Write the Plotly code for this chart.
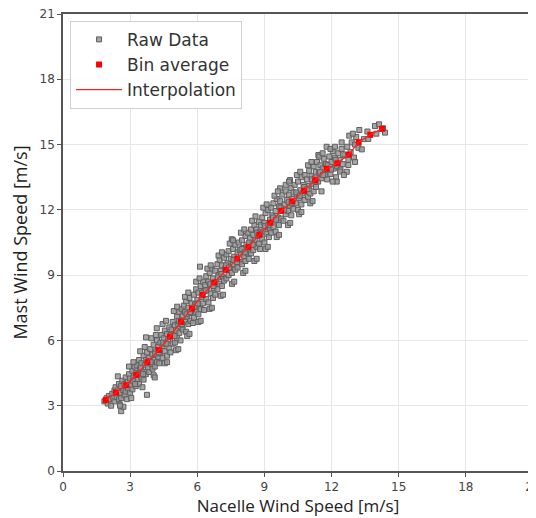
import plotly.graph_objects as go

# Bin averages (Nacelle wind speed, Mast wind speed)
bin_x = [1.91, 2.37, 2.82, 3.28, 3.77, 4.28, 4.78, 5.27, 5.76, 6.24, 6.76, 7.28, 7.79,
         8.28, 8.77, 9.26, 9.75, 10.25, 10.77, 11.27, 11.78, 12.26, 12.77, 13.21, 13.73, 14.25]
bin_y = [3.26, 3.60, 3.94, 4.41, 5.00, 5.56, 6.17, 6.85, 7.46, 8.09, 8.66, 9.24, 9.76,
         10.29, 10.85, 11.41, 11.95, 12.39, 12.87, 13.36, 13.89, 14.14, 14.54, 15.11, 15.45, 15.72]

# Raw data points
raw_pairs = [
    (1.85, 3.2), (1.95, 3.35), (2.0, 3.1), (2.05, 3.45), (2.1, 3.3), (2.15, 3.0), (2.2, 3.55),
    (2.25, 3.35), (2.3, 3.7), (2.3, 3.2), (2.6, 2.75), (2.7, 2.95), (2.55, 3.05),
    (2.35, 3.85), (2.4, 3.4), (2.45, 3.7), (2.5, 4.0), (2.5, 3.3), (2.55, 3.6), (2.6, 3.9),
    (2.6, 3.35), (2.65, 4.15), (2.7, 3.7), (2.75, 3.5), (2.75, 4.0), (2.8, 4.3), (2.8, 3.65),
    (2.85, 3.3), (2.9, 4.1), (2.9, 3.8), (2.95, 4.45), (3.0, 3.6), (3.0, 4.25), (3.05, 3.95),
    (3.1, 4.6), (3.1, 3.75), (3.15, 4.3), (3.2, 4.05), (3.2, 4.8), (3.25, 3.9), (3.25, 4.5), (3.3, 4.2),
    (3.3, 4.85), (3.35, 4.45), (3.4, 4.0), (3.4, 5.1), (3.45, 4.7), (3.5, 4.3), (3.5, 4.95),
    (3.55, 4.55), (3.6, 5.3), (3.6, 4.2), (3.65, 4.85), (3.7, 5.1), (3.7, 4.45), (3.75, 3.5),
    (3.75, 5.45), (3.8, 4.75), (3.71, 6.14),
    (3.85, 5.2), (3.85, 4.55), (3.9, 5.6), (3.95, 4.9), (4.0, 5.35), (4.0, 4.7), (4.05, 5.8),
    (4.1, 5.1), (4.1, 4.8), (4.15, 5.5), (4.2, 6.0), (4.2, 5.0), (4.25, 5.7), (4.25, 5.25),
    (4.19, 6.56), (4.3, 4.95),
    (4.35, 5.9), (4.35, 5.4), (4.4, 6.25), (4.45, 5.2), (4.45, 5.75), (4.5, 6.1), (4.55, 5.5),
    (4.55, 6.45), (4.6, 5.85), (4.65, 5.3), (4.65, 6.3), (4.7, 6.0), (4.75, 5.65), (4.75, 6.6),
    (4.8, 6.2), (4.8, 5.45),
    (4.85, 6.5), (4.9, 5.85), (4.9, 6.85), (4.95, 6.3), (5.0, 5.9), (5.0, 6.7), (5.05, 6.45),
    (5.1, 7.1), (5.1, 6.1), (5.15, 6.75), (5.2, 6.35), (5.2, 7.3), (5.25, 6.0), (5.25, 6.9),
    (5.3, 6.6), (5.3, 7.45),
    (5.35, 7.15), (5.35, 6.5), (5.4, 7.6), (5.45, 6.85), (5.45, 7.3), (5.5, 6.4), (5.5, 7.8),
    (5.55, 7.1), (5.6, 7.5), (5.6, 6.75), (5.65, 7.95), (5.7, 7.25), (5.7, 6.9), (5.75, 7.7),
    (5.8, 7.4), (5.8, 6.8),
    (5.85, 8.1), (5.85, 7.05), (5.9, 7.65), (5.95, 7.3), (5.95, 8.35), (6.0, 7.85), (6.05, 7.2),
    (6.05, 8.2), (6.1, 7.6), (6.12, 9.39), (6.15, 8.5), (6.15, 7.45), (6.2, 8.0), (6.25, 7.7),
    (6.25, 8.7), (6.3, 8.25), (6.3, 7.4),
    (6.35, 8.55), (6.4, 7.9), (6.4, 8.95), (6.45, 8.3), (6.5, 7.75), (6.5, 8.7), (6.55, 9.1),
    (6.6, 8.15), (6.6, 8.55), (6.65, 9.3), (6.7, 7.95), (6.7, 8.85), (6.75, 8.4), (6.8, 9.2), (6.8, 8.1),
    (6.85, 8.7), (6.9, 9.5), (6.9, 8.35), (6.95, 9.0), (7.0, 8.6), (7.0, 9.7), (7.05, 9.2),
    (7.1, 8.5), (7.1, 9.45), (7.15, 8.9), (7.2, 9.8), (7.2, 8.75), (7.25, 9.3), (7.3, 8.85), (7.3, 9.95),
    (7.35, 9.55), (7.4, 9.0), (7.4, 10.1), (7.45, 9.35), (7.5, 9.75), (7.54, 10.65), (7.55, 9.1),
    (7.6, 10.2), (7.6, 9.5), (7.65, 9.85), (7.7, 9.25), (7.7, 10.4), (7.75, 9.7), (7.8, 10.05), (7.8, 9.35),
    (7.85, 10.5), (7.9, 9.6), (7.9, 10.15), (7.95, 9.95), (8.0, 10.6), (8.0, 9.5), (8.05, 10.25),
    (8.1, 9.85), (8.15, 10.8), (8.15, 9.65), (8.2, 10.4), (8.25, 10.0), (8.25, 10.95), (8.3, 10.2), (8.3, 9.75),
    (8.35, 10.7), (8.4, 10.0), (8.4, 11.1), (8.45, 10.45), (8.5, 10.85), (8.5, 10.15), (8.55, 11.3),
    (8.6, 10.6), (8.65, 10.3), (8.65, 11.1), (8.7, 10.8), (8.75, 11.45), (8.75, 10.45), (8.8, 11.0), (8.8, 10.2),
    (8.85, 11.3), (8.9, 10.65), (8.9, 11.65), (8.95, 11.0), (9.0, 10.5), (9.0, 11.4), (9.05, 11.85),
    (9.1, 10.9), (9.15, 11.2), (9.15, 12.0), (9.2, 10.75), (9.25, 11.55), (9.25, 11.1), (9.3, 12.1), (9.3, 10.95),
    (9.35, 11.75), (9.4, 11.2), (9.4, 12.3), (9.45, 11.5), (9.5, 11.95), (9.5, 11.0), (9.55, 12.5),
    (9.6, 11.65), (9.65, 12.15), (9.65, 11.3), (9.7, 12.99), (9.7, 12.4), (9.75, 11.6), (9.8, 12.0), (9.8, 12.7),
    (9.85, 11.5), (9.9, 12.25), (9.95, 12.85), (9.95, 11.8), (10.0, 12.45), (10.05, 11.95), (10.1, 12.7),
    (10.14, 13.37), (10.15, 12.2), (10.2, 11.75), (10.2, 13.0), (10.25, 12.5), (10.3, 12.05), (10.3, 12.8),
    (10.35, 13.15), (10.4, 12.3), (10.45, 12.7), (10.5, 13.3), (10.5, 12.0), (10.55, 12.55), (10.6, 12.9),
    (10.65, 13.5), (10.65, 12.25), (10.7, 12.75), (10.75, 13.15), (10.8, 12.45), (10.8, 13.6),
    (10.85, 12.95), (10.9, 13.4), (10.95, 12.6), (11.0, 13.8), (11.0, 13.1), (11.05, 12.75), (11.1, 13.55),
    (11.15, 13.2), (11.2, 12.85), (11.2, 14.0), (11.25, 13.45), (11.3, 13.05), (11.3, 13.75),
    (11.35, 14.2), (11.41, 14.52), (11.4, 13.3), (11.45, 13.7), (11.5, 14.05), (11.55, 13.45),
    (11.6, 13.9), (11.65, 14.35), (11.7, 13.6), (11.78, 14.9), (11.75, 14.1), (11.8, 13.4),
    (11.85, 13.85), (11.9, 14.45), (11.95, 13.65), (12.0, 14.2), (12.05, 14.7), (12.1, 13.9),
    (12.15, 14.4), (12.2, 13.5), (12.23, 13.3), (12.25, 14.0), (12.3, 14.6),
    (12.35, 14.3), (12.4, 13.85), (12.45, 14.8), (12.5, 14.1), (12.6, 14.5), (12.68, 13.75),
    (12.7, 14.9), (12.75, 14.3), (12.79, 15.41), (12.75, 14.06), (12.38, 13.76),
    (12.85, 14.65), (12.9, 15.1), (13.0, 14.4), (13.05, 15.0), (13.1, 15.35), (13.2, 14.85),
    (13.24, 15.67), (13.35, 14.78),
    (13.45, 15.25), (13.64, 15.26), (13.6, 15.6), (13.94, 15.85), (14.0, 15.5), (14.12, 15.93),
    (14.39, 15.55), (14.3, 15.75),
    # outer edge of the cloud
    (2.45, 4.35), (2.55, 3.0), (2.95, 4.8), (3.05, 3.35), (3.15, 5.0), (3.45, 5.5), (3.55, 3.85),
    (3.65, 5.7), (3.95, 6.1), (4.05, 4.4), (4.15, 6.25), (4.1, 4.3), (4.45, 6.75), (4.55, 4.95),
    (4.6, 6.9), (4.65, 5.0), (4.95, 7.35), (5.05, 5.55), (5.1, 7.55), (5.15, 5.6), (5.45, 8.0),
    (5.55, 6.2), (5.6, 8.2), (5.65, 6.3), (5.95, 8.7), (6.05, 6.85), (6.1, 8.85), (6.15, 6.9),
    (6.45, 9.3), (6.55, 7.45), (6.6, 9.45), (6.65, 7.5), (6.95, 9.9), (7.05, 8.05), (7.1, 10.05),
    (7.15, 8.1), (7.45, 10.45), (7.55, 8.6), (7.6, 10.6), (7.65, 8.7), (7.95, 10.95), (8.05, 9.1),
    (8.1, 11.1), (8.15, 9.2), (8.45, 11.5), (8.55, 9.65), (8.6, 11.7), (8.65, 9.75), (8.95, 12.1),
    (9.05, 10.2), (9.1, 12.25), (9.15, 10.3), (9.45, 12.65), (9.55, 10.75), (9.6, 12.85),
    (9.65, 10.85), (9.95, 13.15), (10.05, 11.3), (10.1, 13.3), (10.15, 11.4), (10.45, 13.6),
    (10.55, 11.8), (10.6, 13.75), (10.65, 11.9), (10.95, 14.05), (11.05, 12.3), (11.1, 14.2),
    (11.15, 12.4), (11.45, 14.45), (11.55, 12.85), (11.6, 14.6), (11.95, 14.8), (12.05, 13.3),
    (12.15, 14.9), (12.45, 15.1), (12.55, 13.6), (12.95, 15.5), (13.05, 14.2),
    # core of the cloud
    (3.12, 4.15), (3.48, 4.75), (3.82, 5.05), (4.12, 5.4), (4.48, 5.9), (4.82, 6.25), (5.18, 6.9),
    (5.52, 7.2), (5.88, 7.55), (6.22, 8.2), (6.58, 8.6), (6.92, 8.9), (7.28, 9.45), (7.62, 9.7),
    (7.98, 10.2), (8.32, 10.5), (8.68, 10.95), (9.02, 11.25), (9.38, 11.65), (9.72, 12.1),
    (10.08, 12.35), (10.42, 12.8), (10.78, 13.05), (11.12, 13.4), (11.48, 13.75), (11.82, 14.05),
    (12.18, 14.3), (12.52, 14.55),
    (3.22, 4.0), (3.58, 4.45), (3.92, 5.0), (4.28, 5.45), (4.62, 5.85), (4.98, 6.2), (5.32, 6.75),
    (5.68, 7.3), (6.02, 7.7), (6.38, 8.3), (6.72, 8.5), (7.08, 9.05), (7.42, 9.35), (7.78, 9.6),
    (8.12, 10.05), (8.48, 10.4), (8.82, 10.9), (9.18, 11.3), (9.52, 11.55), (9.88, 12.0),
    (10.22, 12.3), (10.58, 12.65), (10.92, 12.95), (11.28, 13.3), (11.62, 13.6), (11.98, 13.85),
]
raw_x = [p[0] for p in raw_pairs]
raw_y = [p[1] for p in raw_pairs]

tick_vals = [0, 3, 6, 9, 12, 15, 18, 21]

fig = go.Figure()
fig.add_trace(go.Scatter(
    x=raw_x, y=raw_y, mode="markers", name="Raw Data",
    marker=dict(symbol="square", size=5, color="rgba(150,150,150,0.85)",
                line=dict(color="#5f5f5f", width=1)),
))
fig.add_trace(go.Scatter(
    x=bin_x, y=bin_y, mode="markers", name="Bin average",
    marker=dict(symbol="square", size=6, color="#ff0000"),
))
fig.add_trace(go.Scatter(
    x=bin_x, y=bin_y, mode="lines", name="Interpolation",
    line=dict(color="#ff2020", width=1.3),
))

axis_common = dict(
    range=[0, 21], tickvals=tick_vals, ticks="outside", ticklen=4, tickwidth=1,
    tickcolor="#555", showline=True, linecolor="#555", linewidth=1.5, mirror=True,
    showgrid=True, gridcolor="#e6e6e6", gridwidth=1, zeroline=False,
    tickfont=dict(family="DejaVu Sans", size=12, color="#444"), automargin=False,
    ticklabeloverflow="allow",
)

fig.update_layout(
    width=528, height=510,
    margin=dict(l=55, r=3, t=6, b=47),
    paper_bgcolor="white", plot_bgcolor="white",
    xaxis=dict(axis_common, title=dict(text="Nacelle Wind Speed [m/s]", standoff=2,
               font=dict(family="Open Sans", size=17, color="#222"))),
    yaxis=dict(axis_common, title=dict(text="Mast Wind Speed [m/s]", standoff=8,
               font=dict(family="Open Sans", size=18, color="#222"))),
    legend=dict(x=0.015, y=0.985, xanchor="left", yanchor="top",
                bgcolor="rgba(255,255,255,0.9)", bordercolor="#d0d0d0", borderwidth=1,
                font=dict(family="DejaVu Sans", size=17, color="#333"),
                tracegroupgap=0, itemwidth=46),
    showlegend=True,
)

fig.write_html("out.html")
